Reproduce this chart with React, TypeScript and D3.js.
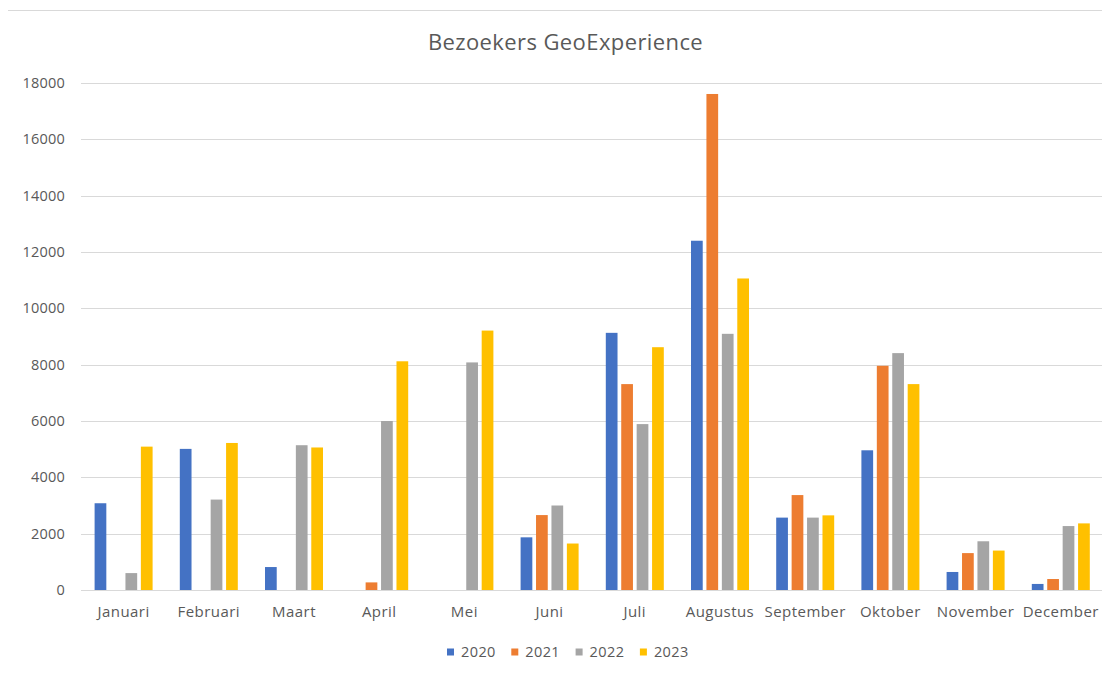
import React from "react";
import * as d3 from "d3";

const months = ["Januari","Februari","Maart","April","Mei","Juni","Juli","Augustus","September","Oktober","November","December"];
const series = ["2020","2021","2022","2023"];
const colors = ["#4472C4","#ED7D31","#A5A5A5","#FFC000"];
const v2020 = [3080, 5010, 815, 0, 0, 1870, 9130, 12400, 2570, 4960, 640, 215];
const v2021 = [0, 0, 0, 270, 0, 2660, 7310, 17610, 3370, 7960, 1310, 390];
const v2022 = [600, 3210, 5140, 6000, 8080, 3000, 5890, 9095, 2570, 8410, 1730, 2270];
const v2023 = [5090, 5220, 5060, 8120, 9210, 1650, 8620, 11060, 2650, 7310, 1400, 2365];
const yTicks = [0,2000,4000,6000,8000,10000,12000,14000,16000,18000];
const values = [v2020, v2021, v2022, v2023];

const W = 1110, H = 674;
const FONT = "'Open Sans', sans-serif";
const TXT = "#595959";

export default function App() {
  const x0 = d3.scaleBand<string>().domain(months).range([81, 1103.4]).padding(0);
  const bw = x0.bandwidth();
  const groupW = 58;
  const x1 = d3.scaleBand<string>().domain(series).range([(bw - groupW) / 2, (bw + groupW) / 2]).paddingInner(0.24).paddingOuter(0);
  const y = d3.scaleLinear().domain([0, 18000]).range([590, 83]);

  const legendStart = 447;
  const legendStep = 64.3;

  return (
    <div style={{ margin: -8 }}>
      <svg width={W} height={H} style={{ display: "block", background: "#fff" }}>
        <rect x={7.5} y={10.5} width={W} height={H} fill="#fff" stroke="#d9d9d9" strokeWidth={1} />
        <text x={565.5} y={50} textAnchor="middle" fontFamily={FONT} fontSize={22} letterSpacing={0.4} fill={TXT}>
          Bezoekers GeoExperience
        </text>
        {yTicks.map((t) => (
          <g key={t}>
            <line x1={81} x2={1104} y1={Math.round(y(t)) + 0.5} y2={Math.round(y(t)) + 0.5} stroke="#d9d9d9" strokeWidth={1} />
            <text x={65} y={y(t)} dy="0.35em" textAnchor="end" fontFamily={FONT} fontSize={14.5} letterSpacing={0.2} fill={TXT}>
              {t}
            </text>
          </g>
        ))}
        {months.map((m, i) => (
          <g key={m} transform={`translate(${x0(m)},0)`}>
            {series.map((s, j) => {
              const v = values[j][i];
              if (!v) return null;
              return (
                <rect key={s} x={x1(s)} y={y(v)} width={x1.bandwidth()} height={y(0) - y(v)} fill={colors[j]} />
              );
            })}
            <text x={bw / 2} y={617} textAnchor="middle" fontFamily={FONT} fontSize={15} letterSpacing={0.45} fill={TXT}>
              {m}
            </text>
          </g>
        ))}
        {series.map((s, j) => (
          <g key={s} transform={`translate(${legendStart + j * legendStep},652)`}>
            <rect x={0} y={-3.5} width={7} height={7} fill={colors[j]} />
            <text x={14} y={0} dy="0.35em" fontFamily={FONT} fontSize={14.5} letterSpacing={0.4} fill={TXT}>
              {s}
            </text>
          </g>
        ))}
      </svg>
    </div>
  );
}
